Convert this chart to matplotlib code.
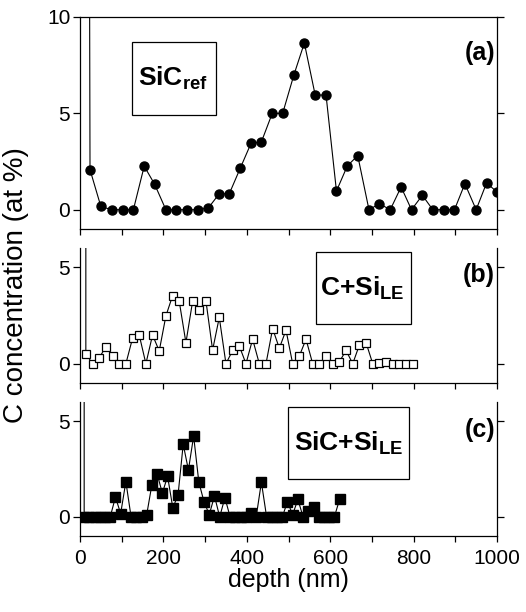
import numpy as np
import matplotlib
matplotlib.use("Agg")
import matplotlib.pyplot as plt
from matplotlib.patches import Rectangle

plt.rcParams['font.family'] = ['Liberation Sans', 'DejaVu Sans']
plt.rcParams['mathtext.fontset'] = 'custom'
plt.rcParams['mathtext.rm'] = 'Liberation Sans'
plt.rcParams['mathtext.bf'] = 'Liberation Sans:bold'

# (a) SiC reference, first point is the off-scale surface peak
depth_a = [21, 24, 50, 76, 102, 128, 154, 179, 206, 230,
           256, 282, 308, 334, 358, 384, 410, 435, 461, 486,
           513, 538, 564, 590, 615, 641, 666, 693, 718, 744,
           770, 795, 821, 846, 872, 898, 923, 950, 975, 1000]
conc_a = [30, 2.08, 0.17, 0, 0, 0, 2.26, 1.32, 0, 0,
          0, 0, 0.1, 0.83, 0.83, 2.14, 3.44, 3.52, 5.0, 5.0,
          7.0, 8.65, 5.95, 5.95, 0.97, 2.27, 2.81, 0, 0.31, 0,
          1.18, 0, 0.75, 0, 0, 0, 1.35, 0, 1.39, 0.92]

# (b) C+Si LE
depth_b = [14, 14, 30, 46, 62, 78, 94, 110, 126, 142, 158,
           174, 190, 206, 222, 238, 254, 270, 286, 302, 318,
           334, 350, 366, 382, 398, 414, 430, 446, 462, 478,
           494, 510, 526, 542, 558, 574, 590, 606, 622, 638,
           654, 670, 686, 702, 718, 734, 750, 766, 782, 798]
conc_b = [30, 0.52, 0, 0.31, 0.87, 0.4, 0, 0, 1.32, 1.49, 0,
          1.49, 0.66, 2.48, 3.52, 3.23, 1.09, 3.23, 2.78, 3.26, 0.71,
          2.4, 0, 0.69, 0.92, 0, 1.27, 0, 0, 1.82, 0.8,
          1.74, 0, 0.4, 1.27, 0, 0, 0.4, 0, 0.1, 0.69,
          0, 0.97, 1.09, 0, 0.05, 0.1, 0, 0, 0, 0]

# (c) SiC+Si LE
depth_c = [10, 10, 22.5, 35, 47.5, 60, 72.5, 85, 97.5, 110, 122.5,
           135, 147.5, 160, 172.5, 185, 197.5, 210, 222.5, 235, 247.5,
           260, 272.5, 285, 297.5, 310, 322.5, 335, 347.5, 360, 372.5,
           385, 397.5, 410, 422.5, 435, 447.5, 460, 472.5, 485, 497.5,
           510, 522.5, 535, 547.5, 560, 572.5, 585, 597.5, 610, 622.5]
conc_c = [30, 0, 0, 0, 0, 0, 0, 1.03, 0.17, 1.84, 0,
          0, 0, 0.12, 1.69, 2.24, 1.24, 2.12, 0.48, 1.12, 3.79,
          2.45, 4.22, 1.81, 0.78, 0.12, 1.09, 0, 1.0, 0, 0,
          0, 0, 0.22, 0, 1.81, 0, 0, 0, 0, 0.78,
          0.12, 0.91, 0, 0.29, 0.52, 0, 0, 0, 0, 0.91]

W, H = 526, 612
fig = plt.figure(figsize=(W / 100, H / 100), dpi=100)

def px_axes(left, top, right, bottom):
    return fig.add_axes([left / W, 1 - bottom / H, (right - left) / W, (bottom - top) / H])

ax_a = px_axes(80, 17, 497, 229)
ax_b = px_axes(80, 248, 497, 383)
ax_c = px_axes(80, 402, 497, 536)

ax_a.plot(depth_a, conc_a, '-o', color='black', lw=0.8, ms=6.5, mfc='black', mec='black')
ax_b.plot(depth_b, conc_b, '-s', color='black', lw=0.8, ms=6, mfc='white', mec='black', mew=0.9)
ax_c.plot(depth_c, conc_c, '-s', color='black', lw=0.8, ms=6.5, mfc='black', mec='black')

ax_a.set_ylim(-1, 10)
ax_b.set_ylim(-1, 6)
ax_c.set_ylim(-1, 6)
ax_a.set_yticks([0, 5, 10])
ax_b.set_yticks([0, 5])
ax_c.set_yticks([0, 5])

for ax in (ax_a, ax_b, ax_c):
    ax.set_xlim(0, 1000)
    ax.set_xticks(np.arange(0, 1001, 100))
    ax.tick_params(axis='x', direction='out', length=4.5, width=0.9, labelsize=15, pad=5)
    ax.tick_params(axis='y', direction='out', length=5, width=0.9, labelsize=15, pad=2,
                   right=True)
    for s in ax.spines.values():
        s.set_linewidth(0.9)
    if ax is not ax_c:
        ax.set_xticklabels([])
    if ax is not ax_a:
        ax.spines['top'].set_visible(False)

ax_c.set_xticklabels(['0', '', '200', '', '400', '', '600', '', '800', '', '1000'])
ax_c.set_xlabel('depth (nm)', fontsize=18, labelpad=0)
fig.text(16 / W, 1 - 285 / H, 'C concentration (at %)', rotation=90,
         ha='center', va='center', fontsize=20)

# sample label boxes
boxes = [
    (ax_a, (0.124, 0.538), 0.202, 0.344, (0.223, 0.71), r'$\mathbf{SiC}_{\mathbf{ref}}$'),
    (ax_b, (0.566, 0.437), 0.227, 0.536, (0.678, 0.70), r'$\mathbf{C{+}Si}_{\mathbf{LE}}$'),
    (ax_c, (0.499, 0.425), 0.290, 0.537, (0.645, 0.69), r'$\mathbf{SiC{+}Si}_{\mathbf{LE}}$'),
]
for ax, xy, w, h, txy, label in boxes:
    ax.add_patch(Rectangle(xy, w, h, transform=ax.transAxes, fill=False,
                           ec='black', lw=0.9))
    ax.text(txy[0], txy[1], label, transform=ax.transAxes, ha='center', va='center',
            fontsize=19)

for ax, lab, y in ((ax_a, '(a)', 0.83), (ax_b, '(b)', 0.80), (ax_c, '(c)', 0.79)):
    ax.text(0.995, y, lab, transform=ax.transAxes, ha='right', va='center',
            fontsize=18, fontweight='bold')

fig.savefig('out.png', dpi=100)
